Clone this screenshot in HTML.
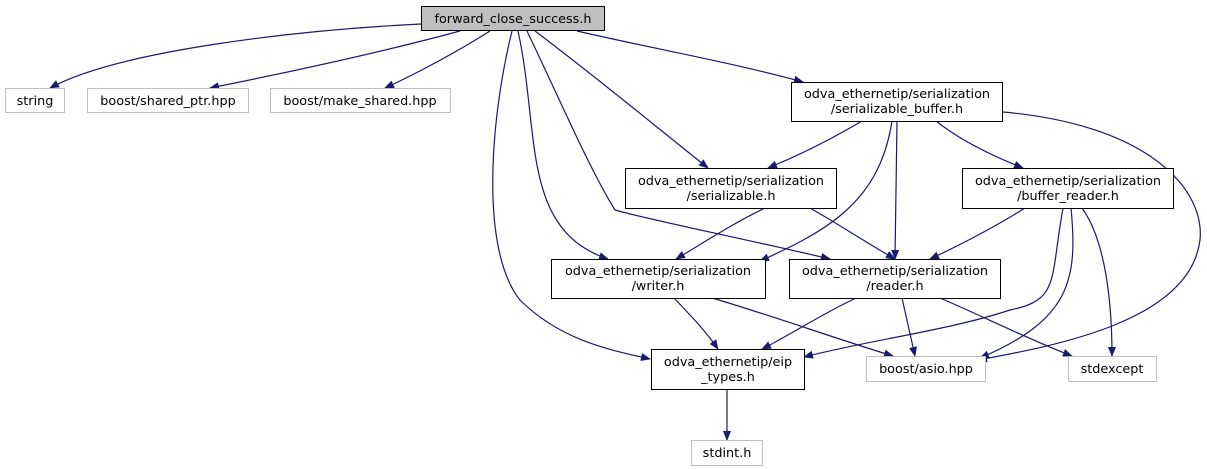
<!DOCTYPE html>
<html><head><meta charset="utf-8"><style>
html,body{margin:0;padding:0;background:#fff}
svg{display:block}
text{font-family:"DejaVu Sans","Liberation Sans",sans-serif;font-size:12.8px;fill:#000;text-anchor:middle}
</style></head><body>
<svg width="1207" height="469" viewBox="0 0 1207 469" xmlns="http://www.w3.org/2000/svg">
<defs><marker id="a" markerWidth="10" markerHeight="8" refX="9" refY="4" orient="auto" markerUnits="userSpaceOnUse"><path d="M0,0L10,4L0,8z" fill="#191970"/></marker></defs>
<g fill="none" stroke="#191970" stroke-width="1.2" marker-end="url(#a)">
<path d="M421,24C300,30 120,50 50,88"/>
<path d="M460,31C390,50 300,70 210,88"/>
<path d="M490,31C460,50 420,72 385,88"/>
<path d="M577,31C650,48 730,62 803,82"/>
<path d="M535,31C600,80 660,130 708,168"/>
<path d="M527,31C560,100 590,170 615,210C650,220 750,240 830,259"/>
<path d="M518,31C540,130 520,230 608,259"/>
<path d="M512,31C490,120 480,250 520,300C560,340 610,350 650,359"/>
<path d="M862,121C830,140 800,155 768,168"/>
<path d="M936,121C960,140 990,155 1023,168"/>
<path d="M897,121L895,259"/>
<path d="M892,121C880,200 830,230 760,261"/>
<path d="M1003,112C1150,125 1205,190 1200,240C1190,320 1060,345 978,360"/>
<path d="M765,208C730,225 700,245 676,259"/>
<path d="M810,208C840,225 870,245 895,259"/>
<path d="M1025,208C990,230 960,245 930,259"/>
<path d="M1063,208C1050,280 1060,300 1010,310C950,330 870,340 804,357"/>
<path d="M1071,208C1078,280 1070,320 980,358"/>
<path d="M1082,208C1105,240 1112,300 1112,356"/>
<path d="M674,298C690,315 705,330 718,349"/>
<path d="M712,298C770,315 840,340 893,356"/>
<path d="M856,298C820,315 790,335 762,349"/>
<path d="M902,298L915,356"/>
<path d="M940,298C980,315 1030,340 1072,356"/>
<path d="M727,389L727,440"/>
</g>
<g stroke-width="1">
<rect x="421.5" y="6.5" width="183" height="24" fill="#bfbfbf" stroke="#000"/>
<rect x="5.5" y="88.5" width="59" height="24" fill="#fff" stroke="#bfbfbf"/>
<rect x="87.5" y="88.5" width="161" height="24" fill="#fff" stroke="#bfbfbf"/>
<rect x="270.5" y="88.5" width="180" height="24" fill="#fff" stroke="#bfbfbf"/>
<rect x="791.5" y="82.5" width="211" height="39" fill="#fff" stroke="#000"/>
<rect x="625.5" y="168.5" width="211" height="40" fill="#fff" stroke="#000"/>
<rect x="962.5" y="168.5" width="211" height="40" fill="#fff" stroke="#000"/>
<rect x="551.5" y="259.5" width="214" height="39" fill="#fff" stroke="#000"/>
<rect x="789.5" y="259.5" width="211" height="39" fill="#fff" stroke="#000"/>
<rect x="651.5" y="349.5" width="153" height="40" fill="#fff" stroke="#000"/>
<rect x="866.5" y="356.5" width="119" height="25" fill="#fff" stroke="#bfbfbf"/>
<rect x="1068.5" y="356.5" width="88" height="25" fill="#fff" stroke="#bfbfbf"/>
<rect x="691.5" y="440.5" width="71" height="25" fill="#fff" stroke="#bfbfbf"/>
</g>
<text x="513" y="23">forward_close_success.h</text>
<text x="35" y="105">string</text>
<text x="168" y="105">boost/shared_ptr.hpp</text>
<text x="360" y="105">boost/make_shared.hpp</text>
<text x="897" y="98">odva_ethernetip/serialization</text>
<text x="897" y="113">/serializable_buffer.h</text>
<text x="731" y="185">odva_ethernetip/serialization</text>
<text x="731" y="200">/serializable.h</text>
<text x="1068" y="185">odva_ethernetip/serialization</text>
<text x="1068" y="200">/buffer_reader.h</text>
<text x="658" y="275">odva_ethernetip/serialization</text>
<text x="658" y="290">/writer.h</text>
<text x="895" y="275">odva_ethernetip/serialization</text>
<text x="895" y="290">/reader.h</text>
<text x="728" y="366">odva_ethernetip/eip</text>
<text x="728" y="381">_types.h</text>
<text x="926" y="373">boost/asio.hpp</text>
<text x="1112" y="373">stdexcept</text>
<text x="727" y="457">stdint.h</text>
</svg>
</body></html>
